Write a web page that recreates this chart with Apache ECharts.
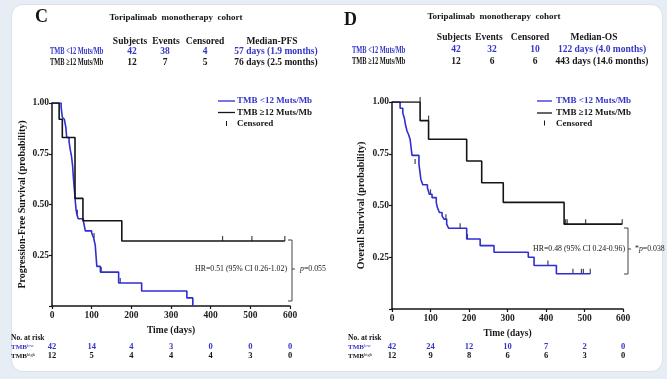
<!DOCTYPE html>
<html><head><meta charset="utf-8">
<script src="https://cdn.jsdelivr.net/npm/echarts@6/dist/echarts.min.js"></script>
<style>
html,body{margin:0;padding:0;background:#e7edf4;}
#card{position:absolute;left:11px;top:4px;width:650px;height:366px;background:#fff;border:1px solid #dbe2ea;border-radius:12px;}
#c{position:absolute;left:0;top:0;width:667px;height:379px;}
</style>
</head><body><div id="card"></div><div id="c"></div>
<script>
// ---- data ----
const dayTicks = [0,100,200,300,400,500,600];
const groups = ['TMB <12 Muts/Mb','TMB \u226512 Muts/Mb'];
const tableHead = ['Subjects','Events','Censored'];
const pfsTable = [[42,38,4,'57 days (1.9 months)'],[12,7,5,'76 days (2.5 months)']];
const osTable = [[42,32,10,'122 days (4.0 months)'],[12,6,6,'443 days (14.6 months)']];

const pfsLow = [[0,1],[23,0.98],[26,0.93],[31,0.92],[35,0.88],[37,0.83],[43,0.81],[46,0.77],[49,0.74],[52,0.69],[54,0.63],[57,0.56],[59,0.51],[61,0.47],[63,0.45],[66,0.43],[79,0.42],[84,0.37],[100,0.36],[105,0.335],[109,0.30],[113,0.195],[122,0.167],[168,0.113],[226,0.074],[340,0.04],[355,0]];
const pfsHigh = [[0,1],[18,0.92],[26,0.83],[58,0.53],[78,0.42],[176,0.32],[587,0.32]];
const pfsLowCens = [[64,0.45],[106,0.335],[124,0.167],[172,0.113]];
const pfsHighCens = [[430,0.32],[504,0.32],[587,0.32]];

const osLow = [[0,1],[21,0.97],[28,0.947],[32,0.923],[35,0.89],[39,0.86],[43,0.843],[47,0.82],[52,0.742],[70,0.70],[75,0.626],[80,0.60],[92,0.586],[97,0.554],[104,0.538],[115,0.514],[118,0.49],[123,0.466],[130,0.45],[135,0.434],[142,0.41],[147,0.39],[194,0.338],[229,0.306],[265,0.274],[354,0.25],[369,0.21],[427,0.17],[515,0.17]];
const osHigh = [[0,1],[73,0.91],[95,0.82],[194,0.715],[233,0.61],[289,0.515],[447,0.41],[598,0.41]];
const osLowCens = [[60,0.70],[100,0.554],[140,0.434],[177,0.39],[196,0.338],[405,0.21],[470,0.17],[492,0.17],[497,0.17],[515,0.17]];
const osHighCens = [[73,1],[95,0.91],[451,0.41],[455,0.41],[503,0.41],[598,0.41]];

const riskPfsLow = [42,14,4,3,0,0,0];
const riskPfsHigh = [12,5,4,4,4,3,0];
const riskOsLow = [42,24,12,10,7,2,0];
const riskOsHigh = [12,9,8,6,6,3,0];

// ---- chart ----
const FONT = '"Liberation Serif","Times New Roman",serif';
const BLUE = '#2e2ed2';
const BLUE_T = '#3434c8';
const INK = '#151515';
const chart = echarts.init(document.getElementById('c'));

function xAx(i, gap){
  return {type:'value',gridIndex:i,min:0,max:600,interval:100,
    axisLine:{lineStyle:{color:INK,width:1.5}},
    axisTick:{length:3,lineStyle:{color:INK,width:1.2}},
    axisLabel:{fontFamily:FONT,fontSize:9.5,fontWeight:'bold',color:'#222',margin:5},
    splitLine:{show:false},
    name:'Time (days)',nameLocation:'middle',nameGap:gap,
    nameTextStyle:{fontFamily:FONT,fontSize:9.5,fontWeight:'bold',color:INK}};
}
function yAx(i, name, gap){
  return {type:'value',gridIndex:i,min:0,max:1,interval:0.25,
    axisLine:{show:true,lineStyle:{color:INK,width:1.5}},
    axisTick:{show:true,length:3,lineStyle:{color:INK,width:1.2}},
    axisLabel:{fontFamily:FONT,fontSize:9.5,fontWeight:'bold',color:'#222',margin:3,
      formatter:v=> v===0?'':v.toFixed(2)},
    splitLine:{show:false},
    name:name,nameLocation:'middle',nameGap:gap,
    nameTextStyle:{fontFamily:FONT,fontSize:10,fontWeight:'bold',color:INK}};
}
function km(data, color, i){
  return {type:'line',step:'end',data:data,xAxisIndex:i,yAxisIndex:i,symbol:'none',
    lineStyle:{color:color,width:1.6},silent:true};
}
function cens(data, i){
  return {type:'scatter',data:data,xAxisIndex:i,yAxisIndex:i,symbol:'rect',
    symbolSize:[1.2,5],symbolOffset:[0,-2.5],itemStyle:{color:INK},silent:true};
}

chart.setOption({
  animation:false,
  grid:[{left:52,top:103,width:238,height:203},{left:392,top:102,width:231,height:207}],
  xAxis:[xAx(0,19),xAx(1,18)],
  yAxis:[yAx(0,'Progression-Free Survival (probability)',25),yAx(1,'Overall Survival (probability)',26)],
  series:[km(pfsLow,BLUE,0),km(pfsHigh,INK,0),cens(pfsLowCens,0),cens(pfsHighCens,0),
          km(osLow,BLUE,1),km(osHigh,INK,1),cens(osLowCens,1),cens(osHighCens,1)]
});

function T(x,y,text,o,extra){
  return Object.assign({type:'text',x:x,y:y,silent:true,style:Object.assign({text:text,fontFamily:FONT,fontWeight:'bold',
    fontSize:9,fill:INK,align:'left',verticalAlign:'middle'},o||{})},extra||{});
}
function L(pts,color,w){
  return {type:'polyline',silent:true,shape:{points:pts},style:{stroke:color,lineWidth:w||1.2,fill:null}};
}
const g = [];
function header(letter, lx, ly, titleX, titleY, headY, headXs, medName, rowYs, labelX, valXs, table){
  g.push(T(lx,ly,letter,{fontSize:18}));
  g.push(T(titleX,titleY,'Toripalimab  monotherapy  cohort',{align:'center',fontSize:9}));
  tableHead.concat([medName]).forEach((h,k)=>g.push(T(headXs[k],headY,h,{align:'center',fontSize:9.5})));
  table.forEach((row,r)=>{
    const col = r===0?BLUE_T:INK;
    g.push(T(labelX,rowYs[r],groups[r],{fill:col,fontSize:10},{scaleX:0.64}));
    row.forEach((v,k)=>g.push(T(valXs[k],rowYs[r],String(v),{align:'center',fill:col,fontSize:9.5})));
  });
}
header('C',35,17,176,18,41.5,[130,166,205,272],'Median-PFS',[51.5,62.5],50,[132,165,205,276],pfsTable);
header('D',344,20,494,17,38,[454,489,530,594],'Median-OS',[50,61.5],352,[456,492,535,602],osTable);

function legend(x0,x1,tx,ys){
  g.push(L([[x0,ys[0]],[x1,ys[0]]],BLUE,1.3));
  g.push(T(tx,ys[0],groups[0],{fill:BLUE_T}));
  g.push(L([[x0,ys[1]],[x1,ys[1]]],INK,1.3));
  g.push(T(tx,ys[1],groups[1]));
  g.push(L([[(x0+x1)/2,ys[2]-3],[(x0+x1)/2,ys[2]+2]],INK,1));
  g.push(T(tx,ys[2],'Censored'));
}
legend(218,235,237,[101,112.5,124]);
legend(537,552,556,[101,113,123.5]);

// HR annotations
const pRich = {i:{fontStyle:'italic',fontFamily:FONT,fontSize:7.8,fill:INK},n:{fontFamily:FONT,fontSize:7.8,fill:INK}};
g.push(T(287,269,'HR=0.51 (95% CI 0.26-1.02)',{align:'right',fontSize:7.8,fontWeight:'normal'}));
g.push(L([[288,240],[292,240],[292,301],[288,301]],'#444',1));
g.push(L([[292,269],[295,269]],'#444',1));
g.push(T(300,269,'{i|p}{n|=0.055}',{rich:pRich,fontWeight:'normal'}));
g.push(T(625,249,'HR=0.48 (95% CI 0.24-0.96)',{align:'right',fontSize:7.8,fontWeight:'normal'}));
g.push(L([[624,228],[628,228],[628,274],[624,274]],'#444',1));
g.push(L([[628,249],[631,249]],'#444',1));
g.push(T(635,249,'{n|*}{i|p}{n|=0.038}',{rich:pRich,fontWeight:'normal'}));

// number at risk
const tmbRich = (col)=>({a:{fontFamily:FONT,fontWeight:'bold',fontSize:7,fill:col},s:{fontFamily:FONT,fontSize:4.5,fill:col,verticalAlign:'top'}});
function risk(i,nx,lowArr,highArr,ys){
  g.push(T(nx,ys[0],'No. at risk',{fontSize:7.5}));
  g.push(T(nx,ys[1],'{a|TMB}{s|low}',{rich:tmbRich(BLUE_T)}));
  g.push(T(nx,ys[2],'{a|TMB}{s|high}',{rich:tmbRich(INK)}));
  dayTicks.forEach((d,k)=>{
    const px = chart.convertToPixel({xAxisIndex:i},d);
    g.push(T(px,ys[1],String(lowArr[k]),{align:'center',fill:BLUE_T,fontSize:8.5}));
    g.push(T(px,ys[2],String(highArr[k]),{align:'center',fontSize:8.5}));
  });
}
risk(0,11,riskPfsLow,riskPfsHigh,[338,347,356]);
risk(1,348,riskOsLow,riskOsHigh,[338,347,356]);

chart.setOption({graphic:g});
</script>
</body></html>
